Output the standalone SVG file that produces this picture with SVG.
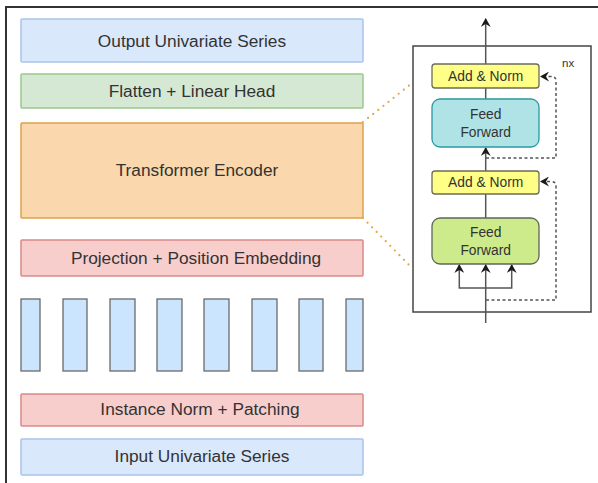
<svg xmlns="http://www.w3.org/2000/svg" width="598" height="483" viewBox="0 0 598 483">
<defs>
<marker id="ah" markerWidth="10" markerHeight="10" refX="8" refY="5" orient="auto" markerUnits="userSpaceOnUse">
<path d="M0,0 L9,5 L0,10 L3,5 Z" fill="#1a1a1a"/>
</marker>
<style>
.t{font-family:"Liberation Sans",Arial,sans-serif;fill:#333;text-anchor:middle}
.big{font-size:17.3px}
.sm{font-size:13.8px}
.blue{fill:#dae8fc;stroke:#a9c4eb;stroke-width:1.5}
.green{fill:#d5e8d4;stroke:#9cc88a;stroke-width:1.5}
.orange{fill:#fad7ac;stroke:#dba24c;stroke-width:1.5}
.red{fill:#f8cecc;stroke:#d88a88;stroke-width:1.5}
.patch{fill:#cce5ff;stroke:#6a6a6a;stroke-width:1.3}
.yel{fill:#ffff88;stroke:#6b6b5a;stroke-width:1.3}
.cyan{fill:#b0e3e6;stroke:#2a9aa2;stroke-width:1.3}
.lime{fill:#cdeb8b;stroke:#5e6658;stroke-width:1.3}
.ln{fill:none;stroke:#555;stroke-width:1.5}
.dash{fill:none;stroke:#555;stroke-width:1.5;stroke-dasharray:3 2.5}
.dot{fill:none;stroke:#e3a63c;stroke-width:2.2;stroke-linecap:round;stroke-dasharray:0 6.5}
</style>
</defs>
<rect width="598" height="483" fill="#fff"/>
<path d="M6,483 V7 H598" fill="none" stroke="#333" stroke-width="2"/>

<g id="output"><rect class="blue" x="21" y="19" width="342" height="43" rx="1"/><text class="t big" x="192" y="47">Output Univariate Series</text></g>
<g id="flatten"><rect class="green" x="21" y="74" width="342" height="34" rx="1"/><text class="t big" x="192" y="97">Flatten + Linear Head</text></g>
<g id="encoder"><rect class="orange" x="21" y="123" width="342" height="95" rx="1"/><text class="t big" x="197" y="176">Transformer Encoder</text></g>
<g id="projection"><rect class="red" x="21" y="240" width="342" height="36" rx="1"/><text class="t big" x="196" y="264">Projection + Position Embedding</text></g>
<g id="patches">
<rect class="patch" x="21" y="299" width="19" height="72"/>
<rect class="patch" x="63" y="299" width="24" height="72"/>
<rect class="patch" x="110" y="299" width="25" height="72"/>
<rect class="patch" x="157" y="299" width="25" height="72"/>
<rect class="patch" x="204" y="299" width="25" height="72"/>
<rect class="patch" x="252" y="299" width="25" height="72"/>
<rect class="patch" x="299" y="299" width="24" height="72"/>
<rect class="patch" x="346" y="299" width="17" height="72"/>
</g>
<g id="instnorm"><rect class="red" x="21" y="394" width="342" height="32" rx="1"/><text class="t big" x="200" y="415">Instance Norm + Patching</text></g>
<g id="input"><rect class="blue" x="21" y="439" width="342" height="36" rx="1"/><text class="t big" x="202" y="462">Input Univariate Series</text></g>

<g id="zoom-lines">
<path class="dot" d="M363,122 L411,84"/>
<path class="dot" d="M363,218 L411,267"/>
</g>

<g id="block"><rect x="413" y="46" width="178" height="266" fill="#fff" stroke="#444" stroke-width="1.5"/><text x="562" y="67" style="font-family:'Liberation Sans',Arial,sans-serif;font-size:11.5px;fill:#333">nx</text></g>

<g id="connectors">
<path class="ln" d="M485.7,64 V19" marker-end="url(#ah)"/>
<path class="ln" d="M485.7,99 V88"/>
<path class="ln" d="M485.7,171 V148" marker-end="url(#ah)"/>
<path class="ln" d="M485.7,218 V194"/>
<path class="ln" d="M485.7,323 V265" marker-end="url(#ah)"/>
<path class="ln" d="M485.7,288 H459.3 V265" marker-end="url(#ah)"/>
<path class="ln" d="M485.7,288 H511.7 V265" marker-end="url(#ah)"/>
<path class="dash" d="M486,300 H556 V186 Q556,181.5 551,181.5 H541" marker-end="url(#ah)"/>
<path class="dash" d="M486,158 H556 V81 Q556,76.5 551,76.5 H541" marker-end="url(#ah)"/>
</g>

<g id="addnorm1"><rect class="yel" x="432" y="64" width="107" height="24" rx="3"/><text class="t sm" x="485.7" y="81">Add &amp; Norm</text></g>
<g id="ff1"><rect class="cyan" x="432" y="99" width="107" height="48" rx="8"/><text class="t sm" x="485.7" y="119">Feed</text><text class="t sm" x="485.7" y="137">Forward</text></g>
<g id="addnorm2"><rect class="yel" x="432" y="171" width="107" height="23" rx="3"/><text class="t sm" x="485.7" y="187">Add &amp; Norm</text></g>
<g id="ff2"><rect class="lime" x="432" y="218" width="107" height="46" rx="8"/><text class="t sm" x="485.7" y="237">Feed</text><text class="t sm" x="485.7" y="255">Forward</text></g>
</svg>
